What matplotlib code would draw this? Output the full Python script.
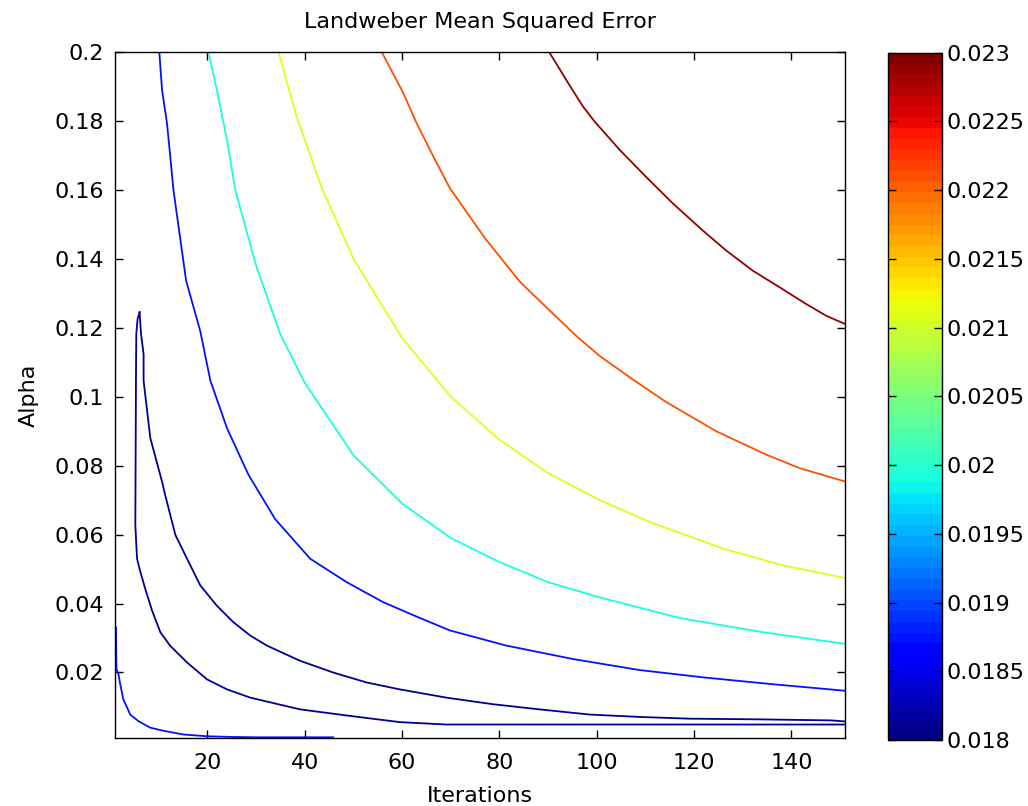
import matplotlib
matplotlib.use("Agg")
import matplotlib.pyplot as plt
import matplotlib.colors as mcolors
import matplotlib.cm as cm

# Contour lines (iterations, alpha) and their MSE level
LEVELS = [0.01812, 0.01875, 0.01875, 0.0199, 0.0211, 0.0221, 0.0229]

# minimum valley (navy), drawn as its two branches meeting at the spike
valley_low_x = [6.05, 5.64, 5.37, 5.31, 5.17, 5.52, 6.2, 7.2, 8.6, 10.3, 12.3, 15.8,
                19.9, 24.0, 28.8, 39.0, 49.3, 59.5, 69.1, 90, 110, 130, 151]
valley_low_y = [0.1245, 0.1226, 0.1183, 0.1075, 0.0628, 0.0530, 0.0492, 0.0443, 0.0380,
                0.0317, 0.0278, 0.0229, 0.0180, 0.0151, 0.0127, 0.0093, 0.0074, 0.0056,
                0.0049, 0.0049, 0.0049, 0.0049, 0.0049]
valley_up_x = [6.05, 6.34, 6.87, 6.87, 8.25, 10.65, 11.3, 13.4, 15.8, 18.5, 21.9, 25.3,
               28.8, 32.2, 39.0, 45.8, 52.7, 59.5, 69.1, 78.6, 88.2, 98.5, 108.8, 119.0,
               133.4, 148.1, 151]
valley_up_y = [0.1245, 0.1182, 0.1123, 0.1046, 0.0880, 0.0754, 0.0715, 0.0599, 0.0530,
               0.0453, 0.0394, 0.0346, 0.0307, 0.0278, 0.0234, 0.0200, 0.0171, 0.0151,
               0.0127, 0.0108, 0.0093, 0.0078, 0.0071, 0.0066, 0.0064, 0.0061, 0.0058]

# bottom-left line (few iterations, small alpha)
corner_x = [1.2, 1.25, 1.3, 1.7, 2.0, 2.7, 3.5, 4.1, 5.8, 8.2, 10.9, 15.1, 19.9, 24.7,
            30, 38, 45.8]
corner_y = [0.0330, 0.0250, 0.0210, 0.0195, 0.0171, 0.0122, 0.0098, 0.0078, 0.0059,
            0.0040, 0.0031, 0.0020, 0.0015, 0.0013, 0.0012, 0.0012, 0.0012]

blue_x = [10.1, 10.65, 11.67, 12.35, 13.0, 15.6, 18.5, 20.6, 24.0, 28.4, 33.9, 41.1,
          48.6, 56.1, 63.0, 69.8, 81.4, 95.1, 108.8, 122.4, 136.1, 151]
blue_y = [0.2, 0.1891, 0.1794, 0.1697, 0.1600, 0.1337, 0.1191, 0.1046, 0.0909, 0.0774,
          0.0645, 0.0530, 0.0462, 0.0404, 0.0362, 0.0322, 0.0278, 0.0239, 0.0207,
          0.0185, 0.0166, 0.0147]

cyan_x = [20.2, 21.9, 24.0, 25.7, 30, 35, 40, 50, 60, 70, 80, 90, 100, 117, 134, 151]
cyan_y = [0.2, 0.1891, 0.1745, 0.160, 0.138, 0.118, 0.104, 0.083, 0.069, 0.059, 0.052,
          0.0462, 0.0420, 0.0358, 0.0317, 0.0283]

yellow_x = [34.6, 38.3, 43.5, 50, 60, 70, 80, 90, 100.6, 110.8, 125.8, 138.2, 151]
yellow_y = [0.2, 0.1813, 0.1605, 0.140, 0.117, 0.100, 0.0875, 0.0778, 0.0700, 0.0637,
            0.0560, 0.0511, 0.0474]

orange_x = [55.8, 60.2, 62.95, 66.4, 69.8, 77, 84.1, 90.3, 96.1, 100.6, 107.4, 114.2,
            124.5, 134.8, 141.6, 151]
orange_y = [0.2, 0.1882, 0.1794, 0.1697, 0.1605, 0.146, 0.1335, 0.1250, 0.1172, 0.1118,
            0.1050, 0.0985, 0.0900, 0.0832, 0.0793, 0.0754]

darkred_x = [90.2, 94.5, 97.1, 99.5, 104.7, 110.1, 115.6, 121.7, 126.5, 132.0, 137.5,
             143.0, 147.1, 151]
darkred_y = [0.2, 0.1901, 0.1843, 0.1799, 0.1716, 0.1638, 0.1561, 0.1483, 0.1425,
             0.1366, 0.1318, 0.1269, 0.1235, 0.1211]

CBAR_TICKS = [0.018, 0.0185, 0.019, 0.0195, 0.02, 0.0205, 0.021, 0.0215, 0.022, 0.0225, 0.023]
X_TICKS = [20, 40, 60, 80, 100, 120, 140]
Y_TICKS = [0.02, 0.04, 0.06, 0.08, 0.1, 0.12, 0.14, 0.16, 0.18, 0.2]

plt.rcParams["font.size"] = 16

cmap = plt.get_cmap("jet", 64)
norm = mcolors.Normalize(vmin=0.018, vmax=0.023)

fig = plt.figure(figsize=(10.28, 8.06), dpi=100)
ax = fig.add_axes([0.1119, 0.0844, 0.7101, 0.8511])
cax = fig.add_axes([0.8638, 0.0819, 0.0525, 0.8527])

lines = [
    (valley_low_x, valley_low_y, LEVELS[0]),
    (valley_up_x, valley_up_y, LEVELS[0]),
    (corner_x, corner_y, LEVELS[1]),
    (blue_x, blue_y, LEVELS[2]),
    (cyan_x, cyan_y, LEVELS[3]),
    (yellow_x, yellow_y, LEVELS[4]),
    (orange_x, orange_y, LEVELS[5]),
    (darkred_x, darkred_y, LEVELS[6]),
]
for xs, ys, lev in lines:
    ax.plot(xs, ys, color=cmap(norm(lev)), linewidth=1.3, solid_joinstyle="miter")

ax.set_xlim(1, 151)
ax.set_ylim(0.001, 0.2)
ax.set_xticks(X_TICKS)
ax.set_yticks(Y_TICKS)
ax.set_yticklabels([f"{v:g}" for v in Y_TICKS])
ax.tick_params(direction="in", length=6, width=1, top=True, right=True)
ax.tick_params(axis="x", pad=11)
ax.tick_params(axis="y", pad=8)
for sp in ax.spines.values():
    sp.set_linewidth(1.0)

ax.set_title("Landweber Mean Squared Error", fontsize=16, pad=17)
ax.set_xlabel("Iterations", labelpad=9)
ax.set_ylabel("Alpha", labelpad=11)

cb = fig.colorbar(cm.ScalarMappable(norm=norm, cmap=cmap), cax=cax)
cb.set_ticks(CBAR_TICKS)
cb.set_ticklabels([f"{v:g}" for v in CBAR_TICKS])
cax.tick_params(direction="in", length=6, width=1, left=True, right=True, pad=3)
cb.outline.set_linewidth(1.0)

fig.savefig("out.png", dpi=100)
